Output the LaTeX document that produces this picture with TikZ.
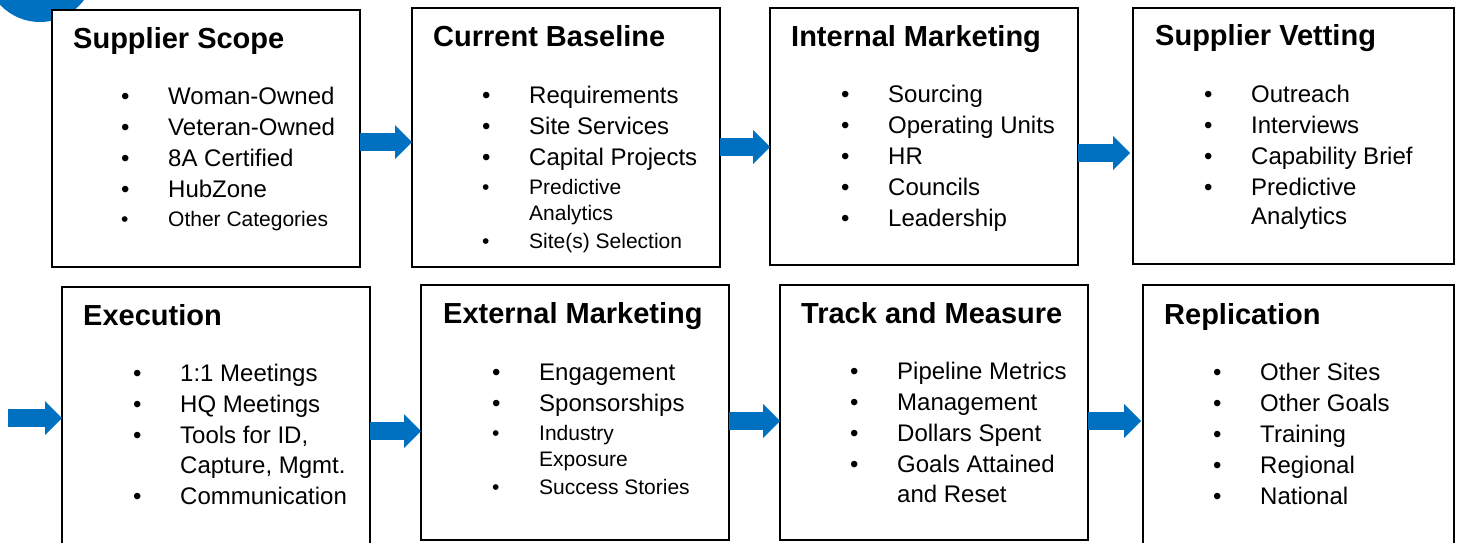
\documentclass[tikz,border=0pt]{standalone}
\usepackage{fontspec}
\setmainfont{Liberation Sans}
\usetikzlibrary{arrows.meta}
\definecolor{flowblue}{HTML}{0070C0}
\newcommand{\bul}{\makebox[47pt][l]{\textbullet}}
\newcommand{\ind}{\hspace*{47pt}}
\newcommand{\sm}{\fontsize{21}{26}\selectfont}

\begin{document}
\begin{tikzpicture}[x=1pt,y=-1pt,
    box/.style={draw,line width=1.6pt,fill=white,anchor=north west,
                inner sep=0pt,outer sep=0pt,minimum width=308pt},
    boxtitle/.style={anchor=base west,inner sep=0pt,
                     font=\fontsize{29}{35}\selectfont\bfseries},
    boxitems/.style={anchor=base west,inner sep=0pt,align=left,
                     font=\fontsize{24}{31}\selectfont},
    flow/.style={flowblue,line width=18pt,
                 -{Triangle[length=17pt,width=34pt,line width=0pt]}}]
\useasboundingbox (0,0) rectangle (1458,542);

\fill[flowblue] (40,-33) circle (55pt);

% top row
\node[box,minimum height=257pt] (scope) at (52,10) {};
\node[box,minimum height=259pt] (base) at (412,8) {};
\node[box,minimum height=257pt] (intern) at (770,8) {};
\node[box,minimum height=256pt,minimum width=321pt] (vet) at (1133,8) {};

% bottom row
\node[box,minimum height=275pt] (exec) at (62,287) {};
\node[box,minimum height=255pt] (extern) at (421,285) {};
\node[box,minimum height=255pt] (track) at (780,285) {};
\node[box,minimum height=275pt,minimum width=311pt] (repl) at (1143,285) {};

% titles and lists (lists sit on their last line)
\node[boxtitle] (scopet) at (73,48) {Supplier Scope};
\node[boxitems] (scopel) at (121,226) {\bul Woman-Owned\\ \bul Veteran-Owned\\
  \bul 8A Certified\\ \bul HubZone\\[-2pt] {\sm\bul Other Categories}};

\node[boxtitle] (baset) at (433,46) {Current Baseline};
\node[boxitems] (basel) at (482,248) {\bul Requirements\\ \bul Site Services\\
  \bul Capital Projects\\[-2pt] {\sm\bul Predictive}\\[-5pt] {\sm\ind Analytics}\\[-3pt]
  {\sm\bul Site(s) Selection}};

\node[boxtitle] (interntt) at (791,46) {Internal Marketing};
\node[boxitems] (internl) at (841,226) {\bul Sourcing\\ \bul Operating Units\\
  \bul HR\\ \bul Councils\\ \bul Leadership};

\node[boxtitle] (vett) at (1155,45) {Supplier Vetting};
\node[boxitems] (vetl) at (1204,224) {\bul Outreach\\ \bul Interviews\\
  \bul Capability Brief\\ \bul Predictive\\[-2pt] \ind Analytics};

\node[boxtitle] (exect) at (83,325) {Execution};
\node[boxitems] (execl) at (133,504) {\bul 1:1 Meetings\\ \bul HQ Meetings\\
  \bul Tools for ID,\\[-1pt] \ind Capture, Mgmt.\\ \bul Communication};

\node[boxtitle] (externt) at (443,323) {External Marketing};
\node[boxitems] (externl) at (492,494) {\bul Engagement\\ \bul Sponsorships\\[-2pt]
  {\sm\bul Industry}\\[-5pt] {\sm\ind Exposure}\\[-3pt] {\sm\bul Success Stories}};

\node[boxtitle] (trackt) at (801,323) {Track and Measure};
\node[boxitems] (trackl) at (850,502) {\bul Pipeline Metrics\\ \bul Management\\
  \bul Dollars Spent\\ \bul Goals Attained\\[-1pt] \ind and Reset};

\node[boxtitle] (replt) at (1164,324) {Replication};
\node[boxitems] (repll) at (1213,504) {\bul Other Sites\\ \bul Other Goals\\
  \bul Training\\ \bul Regional\\ \bul National};

% arrows
\coordinate (a1) at ([yshift=-3.5pt]scope.east);
\coordinate (a2) at ([yshift=-9.5pt]base.east);
\coordinate (a3) at ([yshift=-16.5pt]intern.east);
\coordinate (a4) at (8,418);
\coordinate (a5) at ([yshift=-6.5pt]exec.east);
\coordinate (a6) at ([yshift=-8.5pt]extern.east);
\coordinate (a7) at ([yshift=-8.5pt]track.east);
\draw[flow] (a1) -- (a1 -| base.west);
\draw[flow] (a2) -- (a2 -| intern.west);
\draw[flow,shorten >=3pt] (a3) -- (a3 -| vet.west);
\draw[flow] (a4) -- (a4 -| exec.west);
\draw[flow] (a5) -- (a5 -| extern.west);
\draw[flow] (a6) -- (a6 -| track.west);
\draw[flow,shorten >=2pt] (a7) -- (a7 -| repl.west);
\end{tikzpicture}
\end{document}
